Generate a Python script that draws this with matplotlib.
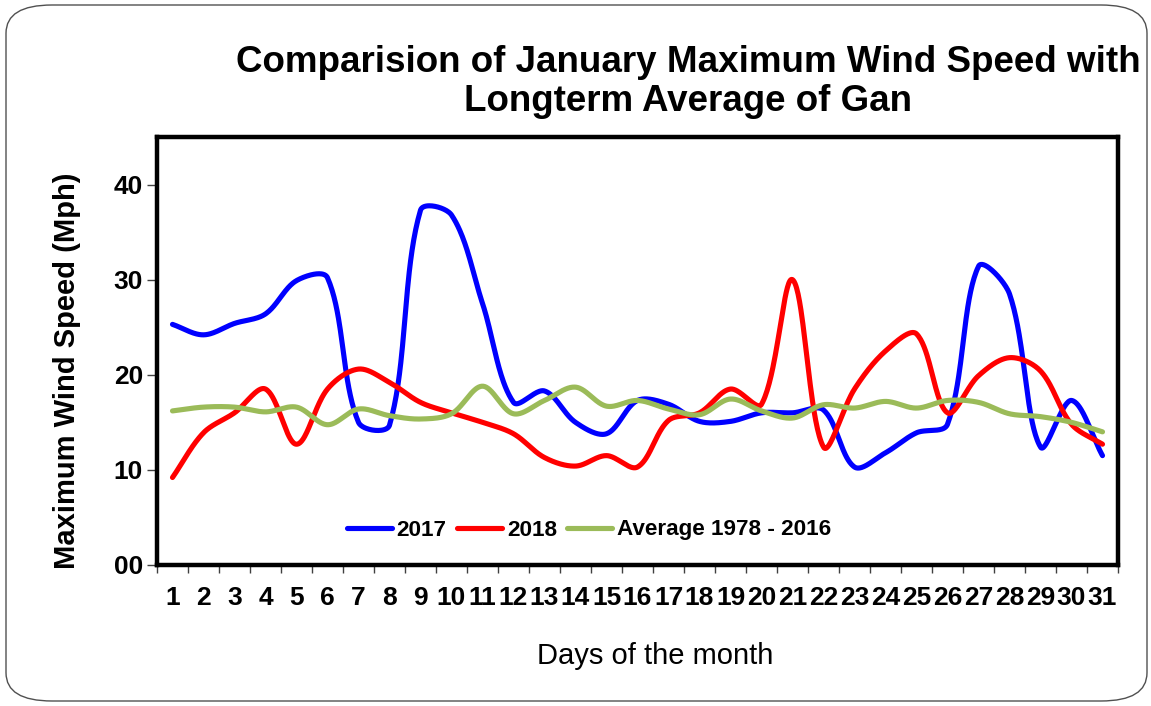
import numpy as np
import matplotlib
matplotlib.use("Agg")
import matplotlib.pyplot as plt
from matplotlib.patches import FancyBboxPatch

days = list(range(1, 32))
wind_2017 = [25.3, 24.2, 25.4, 26.4, 29.9, 30.2, 15.0, 14.7, 37.3, 36.8,
             27.5, 17.1, 18.3, 15.0, 13.8, 17.3, 16.9, 15.1, 15.1, 16.0,
             16.0, 16.3, 10.3, 11.8, 13.9, 14.8, 31.4, 28.5, 12.4, 17.3, 11.5]
wind_2018 = [9.2, 13.9, 16.0, 18.5, 12.7, 18.5, 20.6, 19.2, 17.1, 16.0,
             15.0, 13.8, 11.3, 10.4, 11.5, 10.3, 15.2, 16.0, 18.5, 16.9,
             30.0, 12.4, 18.5, 22.5, 24.3, 16.0, 19.9, 21.8, 20.4, 14.8, 12.7]
wind_avg = [16.2, 16.6, 16.6, 16.1, 16.6, 14.75, 16.4, 15.7, 15.35, 15.9,
            18.8, 15.9, 17.3, 18.7, 16.7, 17.3, 16.4, 15.8, 17.45, 16.2,
            15.45, 16.85, 16.5, 17.2, 16.5, 17.3, 17.1, 15.9, 15.6, 15.0, 14.0]
series_names = ["2017", "2018", "Average 1978 - 2016"]
series_colors = ["#0000FF", "#FF0000", "#9BBB59"]
y_ticks = [0, 10, 20, 30, 40]

title = "Comparision of January Maximum Wind Speed with\nLongterm Average of Gan"
x_label = "Days of the month"
y_label = "Maximum Wind Speed (Mph)"

W, H = 1151, 706
AX_L, AX_R, AX_T, AX_B = 157, 1118, 137, 565
XMIN, XMAX, YMIN, YMAX = 0.5, 31.5, 0, 45
SX = (AX_R - AX_L) / (XMAX - XMIN)   # px per day
SY = (AX_B - AX_T) / (YMAX - YMIN)   # px per unit


def smooth(x, y, n=40):
    """Excel-like smoothed line: cubic Bezier segments whose control
    points are scaled by neighbouring chord lengths (in screen space)."""
    P = np.column_stack([np.asarray(x, float) * SX, np.asarray(y, float) * SY])
    P = np.vstack([P[0], P, P[-1]])
    t = np.linspace(0, 1, n, endpoint=False)[:, None]
    pts = []
    for i in range(1, len(P) - 2):
        p0, p1, p2, p3 = P[i - 1], P[i], P[i + 1], P[i + 2]
        d01 = np.linalg.norm(p1 - p0)
        d12 = np.linalg.norm(p2 - p1)
        d23 = np.linalg.norm(p3 - p2)
        w1 = d12 / (d01 + d12) if d01 + d12 > 0 else 0
        w2 = d12 / (d12 + d23) if d12 + d23 > 0 else 0
        c1 = p1 + (p2 - p0) * w1 / 3
        c2 = p2 - (p3 - p1) * w2 / 3
        b = ((1 - t) ** 3) * p1 + 3 * ((1 - t) ** 2) * t * c1 \
            + 3 * (1 - t) * t ** 2 * c2 + t ** 3 * p2
        pts.append(b)
    pts.append(P[-2][None, :])
    pts = np.vstack(pts)
    return pts[:, 0] / SX, pts[:, 1] / SY


fig = plt.figure(figsize=(W / 100, H / 100), dpi=100)
plt.rcParams['font.family'] = ['Liberation Sans', 'DejaVu Sans']

border = FancyBboxPatch((6 / W, 5 / H), 1 - 10 / W, 1 - 10 / H,
                        boxstyle="round,pad=0,rounding_size=0.04",
                        transform=fig.transFigure, fill=False,
                        edgecolor="#505050", linewidth=1.0)
fig.patches.append(border)

ax = fig.add_axes([AX_L / W, 1 - AX_B / H, (AX_R - AX_L) / W, (AX_B - AX_T) / H])

for vals, name, col in zip([wind_2017, wind_2018, wind_avg], series_names, series_colors):
    sx, sy = smooth(days, vals)
    ax.plot(sx, sy, color=col, linewidth=3.7, label=name,
            solid_capstyle='round', solid_joinstyle='round')

ax.set_xlim(XMIN, XMAX)
ax.set_ylim(YMIN, YMAX)

ax.set_xticks(np.arange(0.5, 32, 1))
ax.set_xticklabels([])
ax.set_xticks(days, minor=True)
ax.set_xticklabels([str(d) for d in days], minor=True,
                   fontsize=19, fontweight='bold')
ax.tick_params(axis='x', which='major', direction='out', length=6, width=1, color='#404040')
ax.tick_params(axis='x', which='minor', length=0, pad=15)

ax.set_yticks(y_ticks)
ax.set_yticklabels([f"{v:02d}" for v in y_ticks], fontsize=19, fontweight='bold')
ax.tick_params(axis='y', direction='out', length=7, width=1, color='#404040', pad=3)

for sp in ax.spines.values():
    sp.set_linewidth(3.2)
    sp.set_color('black')

fig.text(655 / W, 1 - 656 / H, x_label, ha='center', va='center', fontsize=21)
fig.text(67 / W, 1 - 371 / H, y_label, ha='center', va='center', rotation=90,
         fontsize=21, fontweight='bold')

fig.text(688 / W, 1 - 82 / H, title, ha='center', va='center',
         fontsize=26.5, fontweight='bold', linespacing=1.18)

leg = ax.legend(loc='center', bbox_to_anchor=(589 / W, 1 - 530 / H),
                bbox_transform=fig.transFigure, ncol=3, frameon=False,
                prop={'size': 16.2, 'weight': 'bold'}, handlelength=2.0,
                handletextpad=0.22, columnspacing=0.45)
for line in leg.get_lines():
    line.set_linewidth(3.7)

fig.savefig("out.png", dpi=100)
